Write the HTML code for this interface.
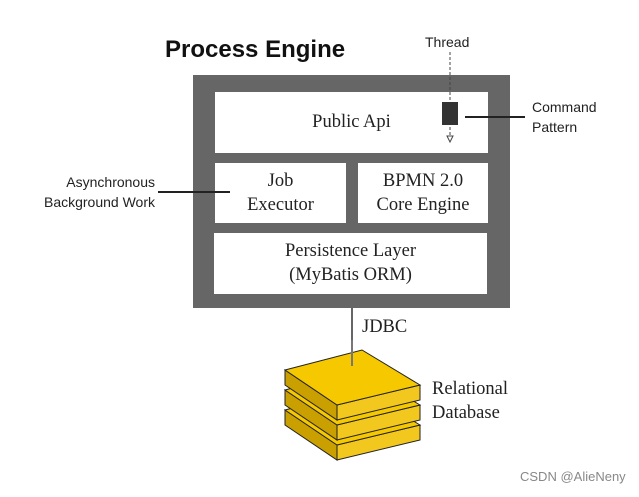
<!DOCTYPE html>
<html><head><style>
body{margin:0;background:#fff;width:639px;height:497px;overflow:hidden;position:relative}
.s{font-family:"Liberation Serif",serif;font-size:18.5px;color:#222;position:absolute;text-align:center;line-height:24px}
.a{font-family:"Liberation Sans",sans-serif;font-size:14px;color:#222;position:absolute;line-height:20px}
.b{position:absolute;background:#fff}
</style></head><body>
<div style="position:absolute;left:165px;top:36px;font:bold 24px 'Liberation Sans',sans-serif;color:#111">Process Engine</div>
<div style="position:absolute;left:193px;top:75px;width:317px;height:233px;background:#666"></div>
<div class="b" style="left:215px;top:92px;width:273px;height:61px"></div>
<div class="b" style="left:215px;top:163px;width:131px;height:60px"></div>
<div class="b" style="left:358px;top:163px;width:130px;height:60px"></div>
<div class="b" style="left:214px;top:233px;width:273px;height:61px"></div>
<div class="s" style="left:215px;top:110px;width:273px">Public Api</div>
<div class="s" style="left:215px;top:169px;width:131px">Job<br>Executor</div>
<div class="s" style="left:358px;top:169px;width:130px">BPMN 2.0<br>Core Engine</div>
<div class="s" style="left:214px;top:239px;width:273px">Persistence Layer<br>(MyBatis ORM)</div>
<div class="a" style="left:425px;top:32px">Thread</div>
<div class="a" style="left:532px;top:97px">Command<br>Pattern</div>
<div class="a" style="left:20px;top:172px;width:135px;text-align:right">Asynchronous<br>Background Work</div>
<div class="s" style="left:362px;top:315px">JDBC</div>
<div class="s" style="left:432px;top:377px;text-align:left">Relational<br>Database</div>
<svg width="639" height="497" style="position:absolute;left:0;top:0">
<line x1="450" y1="52" x2="450" y2="138" stroke="#444" stroke-dasharray="3,2"/>
<path d="M447 136 L450 142 L453 136 Z" fill="#fff" stroke="#444"/>
<rect x="442" y="102" width="16" height="23" fill="#333"/>
<line x1="465" y1="117" x2="525" y2="117" stroke="#222" stroke-width="2"/>
<line x1="158" y1="192" x2="230" y2="192" stroke="#222" stroke-width="2"/>
<line x1="352" y1="308" x2="352" y2="365" stroke="#666" stroke-width="2"/>
<g stroke="#222" stroke-width="1">
<g transform="translate(0,40)">
<path d="M285 370 L337 405 L337 420 L285 385 Z" fill="#c9a000"/>
<path d="M337 405 L420 385 L420 400 L337 420 Z" fill="#f2c71e"/>
<path d="M285 370 L362 350 L420 385 L337 405 Z" fill="#f5c800"/>
</g>
<g transform="translate(0,20)">
<path d="M285 370 L337 405 L337 420 L285 385 Z" fill="#c9a000"/>
<path d="M337 405 L420 385 L420 400 L337 420 Z" fill="#f2c71e"/>
<path d="M285 370 L362 350 L420 385 L337 405 Z" fill="#f5c800"/>
</g>
<path d="M285 370 L337 405 L337 420 L285 385 Z" fill="#c9a000"/>
<path d="M337 405 L420 385 L420 400 L337 420 Z" fill="#f2c71e"/>
<path d="M285 370 L362 350 L420 385 L337 405 Z" fill="#f5c800"/>
</g>
<line x1="352" y1="340" x2="352" y2="366" stroke="#777" stroke-width="2"/>
</svg>
<div style="position:absolute;left:520px;top:469px;font:13px 'Liberation Sans',sans-serif;color:#888">CSDN @AlieNeny</div>
</body></html>
